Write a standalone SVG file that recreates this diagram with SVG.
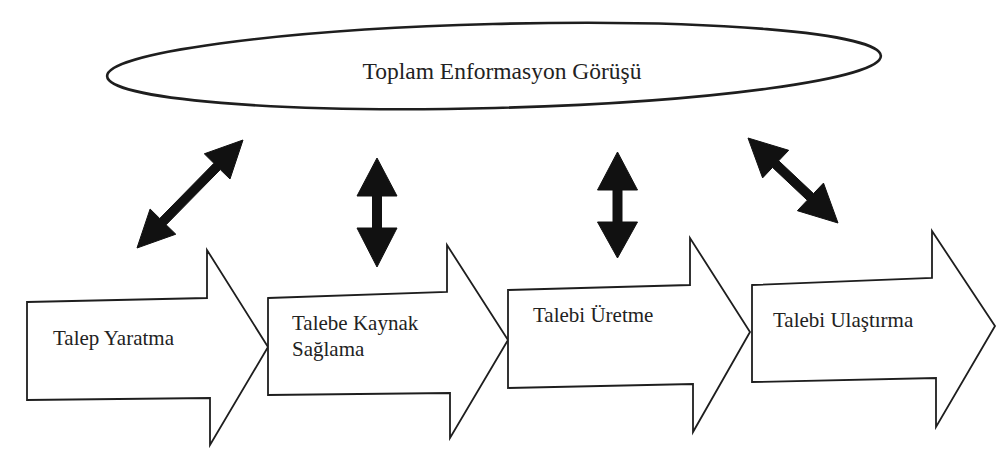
<svg xmlns="http://www.w3.org/2000/svg" width="997" height="455" viewBox="0 0 997 455">
  <style>
    .bg { fill: #ffffff; }
    .oval { fill: #ffffff; stroke: #1e1e1e; stroke-width: 2.6; }
    .step { fill: #ffffff; stroke: #1e1e1e; stroke-width: 1.8; stroke-linejoin: miter; }
    text { font-family: "Liberation Serif", "Times New Roman", serif; fill: #222222; }
    .title { font-size: 23.5px; }
    .steptext { font-size: 21px; }
    .link { fill: #111111; stroke: #111111; stroke-width: 1; stroke-linejoin: miter; }
  </style>

  <rect class="bg" x="0" y="0" width="997" height="455"/>

  <!-- Overall information view -->
  <g id="node-toplam-enformasyon">
    <ellipse class="oval" cx="494" cy="66" rx="387" ry="42" transform="rotate(-1.5 494 66)"/>
    <text class="title" x="502" y="79" text-anchor="middle" font-family="Liberation Serif, serif">Toplam Enformasyon Görüşü</text>
  </g>

  <!-- Process chain: four block arrows -->
  <g id="node-talep-yaratma" font-family="Liberation Serif, serif">
    <polygon class="step" points="27,302 207,298 207,250 268,347 210,445 210,398 27,400"/>
    <text class="steptext" x="53" y="345" font-family="Liberation Serif, serif">Talep Yaratma</text>
  </g>

  <g id="node-talebe-kaynak-saglama" font-family="Liberation Serif, serif">
    <polygon class="step" points="268,298 447,292 447,245 508,340 450,438 450,393 268,395"/>
    <text class="steptext" x="292" y="330" font-family="Liberation Serif, serif">Talebe Kaynak</text>
    <text class="steptext" x="292" y="356" font-family="Liberation Serif, serif">Sağlama</text>
  </g>

  <g id="node-talebi-uretme" font-family="Liberation Serif, serif">
    <polygon class="step" points="508,290 690,285 690,238 750,332 693,432 693,384 508,388"/>
    <text class="steptext" x="533" y="322" font-family="Liberation Serif, serif">Talebi Üretme</text>
  </g>

  <g id="node-talebi-ulastirma" font-family="Liberation Serif, serif">
    <polygon class="step" points="752,285 932,278 932,231 995,326 936,427 936,378 752,382"/>
    <text class="steptext" x="773" y="327" font-family="Liberation Serif, serif">Talebi Ulaştırma</text>
  </g>

  <!-- Two-way links between the overall view and each step -->
  <g id="connectors">
    <polygon class="link" points="137,248 175.8,234.2 166.1,224.8 220.3,169.6 230,179 243,140 204.3,153.8 213.9,163.3 159.7,218.5 150.1,209"/>
    <polygon class="link" points="377,158 397,196 381.5,196 381.5,228 397,228 377,267 357,228 372.5,228 372.5,196 357,196"/>
    <polygon class="link" points="617.5,152 637.5,190 622,190 622,222 637.5,222 617.5,258 597.5,222 613,222 613,190 597.5,190"/>
    <polygon class="link" points="748,138 762.6,177.9 772.5,167.4 807.3,200.2 797.4,210.7 838,223 823.5,183.1 813.5,193.6 778.7,160.8 788.7,150.3"/>
  </g>
</svg>
